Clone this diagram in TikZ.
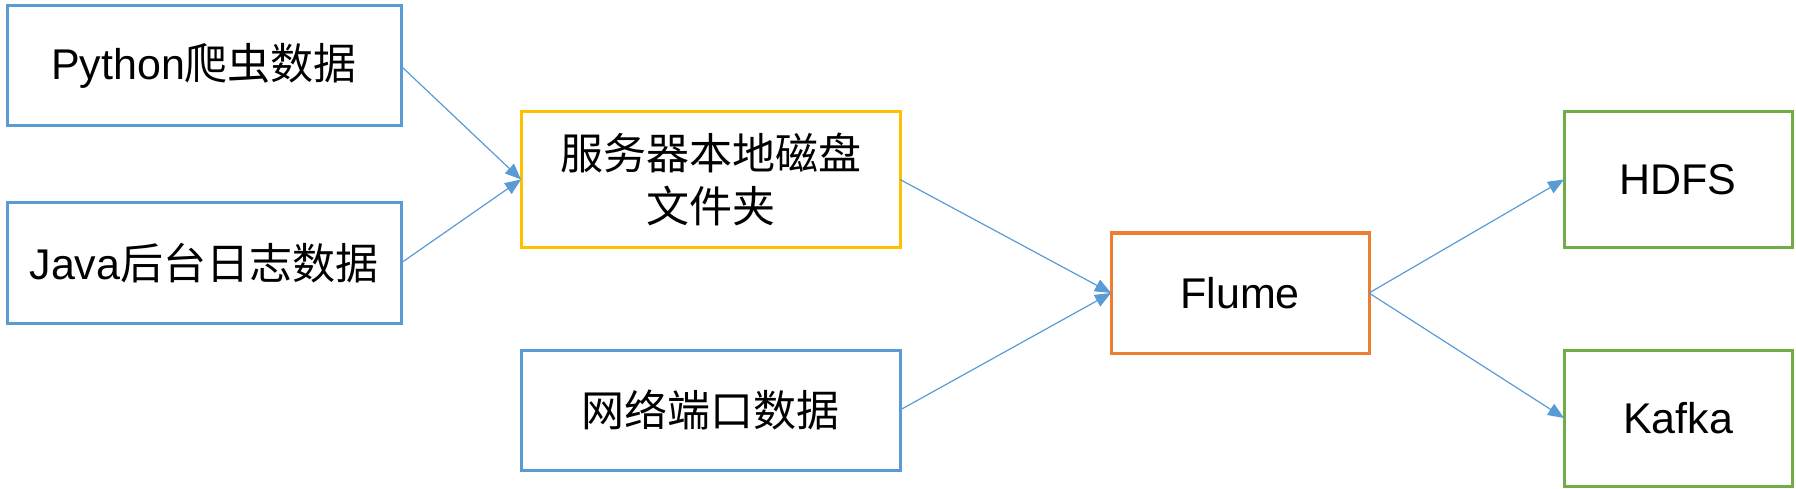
\documentclass[tikz,border=0pt]{standalone}
\usepackage{fontspec}
\setmainfont{Liberation Sans}
\newfontfamily\cjk{Noto Sans CJK SC}
\usetikzlibrary{arrows.meta}
\definecolor{cblue}{HTML}{5B9BD5}
\definecolor{cyellow}{HTML}{FFC000}
\definecolor{corange}{HTML}{ED7D31}
\definecolor{cgreen}{HTML}{70AD47}
\tikzset{
  box/.style={draw, line width=3pt, inner sep=0pt, outer sep=0pt, align=center,
    font=\fontsize{43}{53}\selectfont, text=black},
  bluebox/.style={box, draw=cblue},
  link/.style={draw=cblue, line width=1.2pt, -{Triangle[length=16pt,width=13pt]}}
}
\begin{document}
\begin{tikzpicture}[x=1pt,y=-1pt]
\useasboundingbox (0,0) rectangle (1796,489);
\node[bluebox, minimum width=394pt, minimum height=120pt] (py) at (204,66) {Python{\cjk 爬虫数据}};
\node[bluebox, minimum width=394pt, minimum height=120pt] (java) at (204,263) {Java{\cjk 后台日志数据}};
\node[box, draw=cyellow, minimum width=379pt, minimum height=135pt] (srv) at (710.5,179.5) {{\cjk 服务器本地磁盘}\\{\cjk 文件夹}};
\node[bluebox, minimum width=379pt, minimum height=120pt] (net) at (710.5,410) {{\cjk 网络端口数据}};
\node[box, draw=corange, minimum width=258pt, minimum height=120pt] (flume) at (1240,293) {Flume};
\node[box, draw=cgreen, minimum width=228pt, minimum height=135pt] (hdfs) at (1678,179.5) {HDFS};
\node[box, draw=cgreen, minimum width=228pt, minimum height=136pt] (kafka) at (1678,418) {Kafka};
\draw[link] (py.east) -- (srv.west);
\draw[link] (java.east) -- (srv.west);
\draw[link] (srv.east) -- (flume.west);
\draw[link] (net.east) -- (flume.west);
\draw[link] (flume.east) -- (hdfs.west);
\draw[link] (flume.east) -- (kafka.west);
\end{tikzpicture}
\end{document}
